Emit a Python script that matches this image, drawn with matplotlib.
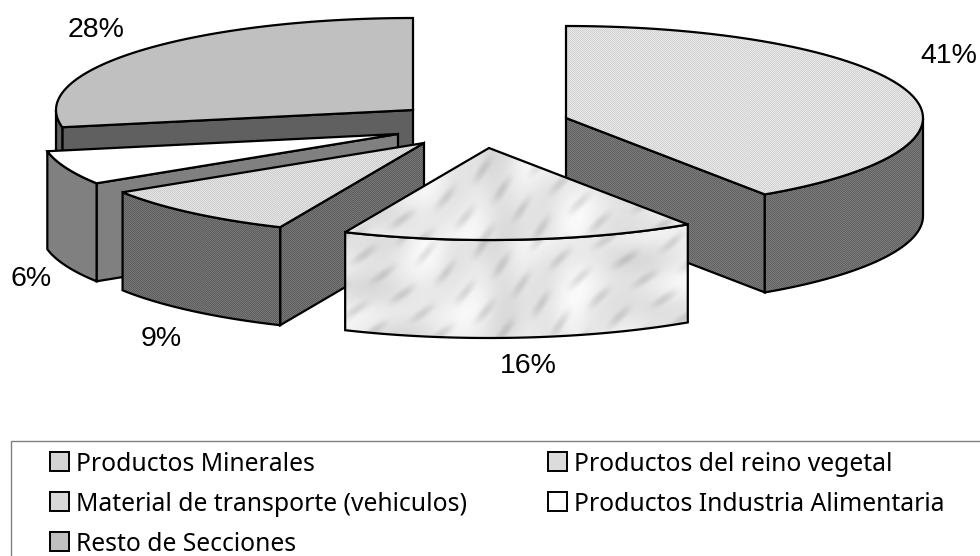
import numpy as np
import matplotlib
matplotlib.use('Agg')
import matplotlib.pyplot as plt
from matplotlib.patches import Polygon, Rectangle

# Pie values (%), clockwise from 12 o'clock
valores = [40.6, 16.0, 9.4, 6.0, 28.0]
etiquetas = ['41%', '16%', '9%', '6%', '28%']
leyenda = ['Productos del reino vegetal', 'Productos Minerales',
           'Material de transporte (vehiculos)', 'Productos Industria Alimentaria',
           'Resto de Secciones']

# Exploded centre of each slice, in pixels
centros = [(566, 118), (489, 148), (424, 143), (398, 134), (413, 110)]
pos_etiquetas = [(949, 56), (528, 366), (161, 339), (31, 279), (96, 30)]
color_top = ['#dcdcdc', '#e4e4e4', '#d8d8d8', '#ffffff', '#c0c0c0']
color_lado = ['#6e6e6e', '#e0e0e0', '#6a6a6a', '#808080', '#606060']
textura = ['punto', 'marmol', 'punto', None, None]
orden = [4, 0, 3, 2, 1]

RX, RY, ALTO = 357, 92, 98

fig = plt.figure(figsize=(9.8, 5.56), dpi=100)
ax = fig.add_axes([0, 0, 1, 1])
capa = [1]


def z_sig():
    capa[0] += 1
    return capa[0]


def punto(ang, c):
    a = np.radians(ang)
    return c[0] + RX * np.sin(a), c[1] - RY * np.cos(a)


def arco(a0, a1, c):
    ang = np.linspace(a0, a1, 80)
    x, y = punto(ang, c)
    return np.column_stack([x, y])


def relleno(pts, color, tipo, dy=0):
    # solid face, or a texture image clipped to the face
    ax.add_patch(Polygon(pts, closed=True, fc=color, ec='none', zorder=z_sig()))
    if tipo is not None:
        x0, y0 = np.floor(pts.min(axis=0)).astype(int)
        x1, y1 = np.ceil(pts.max(axis=0)).astype(int)
        xx, yy = np.meshgrid(np.arange(x0, x1), np.arange(y0, y1))
        if tipo == 'marmol':
            yy = yy - dy
            # streaks run up and to the right
            s = xx * 0.7 + yy * 0.7
            r = xx * 0.7 - yy * 0.7
            z = 0.91 - 0.04 * (np.sin(s * 0.09 + np.sin(r * 0.03) * 2) * np.sin(r * 0.04 + 1)) \
                - 0.10 * np.maximum(0, np.sin(s * 0.23 + 1.5 * np.sin(r * 0.03)) * np.sin(r * 0.07 + 2)) ** 2 \
                - 0.03 * np.sin(s * 0.02 + r * 0.05)
            z = np.clip(z, 0.6, 1)
        else:
            base = matplotlib.colors.to_rgb(color)[0]
            z = base + 0.05 * (((xx + yy) % 2) * 2 - 1)
        im = ax.imshow(z, cmap='gray', vmin=0, vmax=1, interpolation='bilinear' if tipo == 'marmol' else 'nearest',
                       extent=[x0, x1, y1, y0], aspect='auto', zorder=z_sig())
        im.set_clip_path(Polygon(pts, closed=True, transform=ax.transData))


def borde(pts):
    ax.add_patch(Polygon(pts, closed=True, fc='none', ec='black', lw=1.6, joinstyle='miter', zorder=z_sig()))


fin = np.cumsum(valores) * 3.6
ini = np.concatenate([[0], fin[:-1]])

for i in orden:
    a0, a1, c = ini[i], fin[i], centros[i]
    base = (c[0], c[1] + ALTO)
    # cut faces that look at the viewer
    for ang, ve in ((a0, np.sin(np.radians(a0)) < -1e-6), (a1, np.sin(np.radians(a1)) > 1e-6)):
        if ve:
            p = punto(ang, c)
            cara = np.array([c, p, (p[0], p[1] + ALTO), base])
            relleno(cara, color_lado[i], textura[i], dy=75)
            borde(cara)
    # outer band, front half only
    b0, b1 = max(a0, 90), min(a1, 270)
    if b1 > b0:
        sup = arco(b0, b1, c)
        inf = arco(b1, b0, base)
        banda = np.vstack([sup, inf])
        relleno(banda, color_lado[i], textura[i], dy=75)
        borde(banda)
    # top face
    tapa = np.vstack([[c], arco(a0, a1, c)])
    relleno(tapa, color_top[i], textura[i])
    borde(tapa)

for txt, (x, y) in zip(etiquetas, pos_etiquetas):
    ax.text(x, y, txt, ha='center', va='center', fontsize=20.5, family='Liberation Sans', color='black', zorder=z_sig())

# legend box runs off the right and bottom edges
ax.add_patch(Rectangle((10.5, 440.5), 1000, 200, fc='none', ec='#808080', lw=1, zorder=z_sig()))
pos_ley = [(548, 461.5), (50, 461.5), (50, 501.5), (548, 501.5), (50, 541.5)]
color_ley = ['#dcdcdc', '#d4d4d4', '#d8d8d8', '#ffffff', '#c0c0c0']
for txt, (x, y), col in zip(leyenda, pos_ley, color_ley):
    ax.add_patch(Rectangle((x, y - 9.5), 19, 19, fc=col, ec='black', lw=1.4, zorder=z_sig()))
    ax.text(x + 26, y + 9.5, txt, ha='left', va='baseline', fontsize=17.8, family='Noto Sans', color='black', zorder=z_sig())

ax.set_xlim(0, 980)
ax.set_ylim(556, 0)
ax.axis('off')
fig.savefig('out.png', dpi=100)
